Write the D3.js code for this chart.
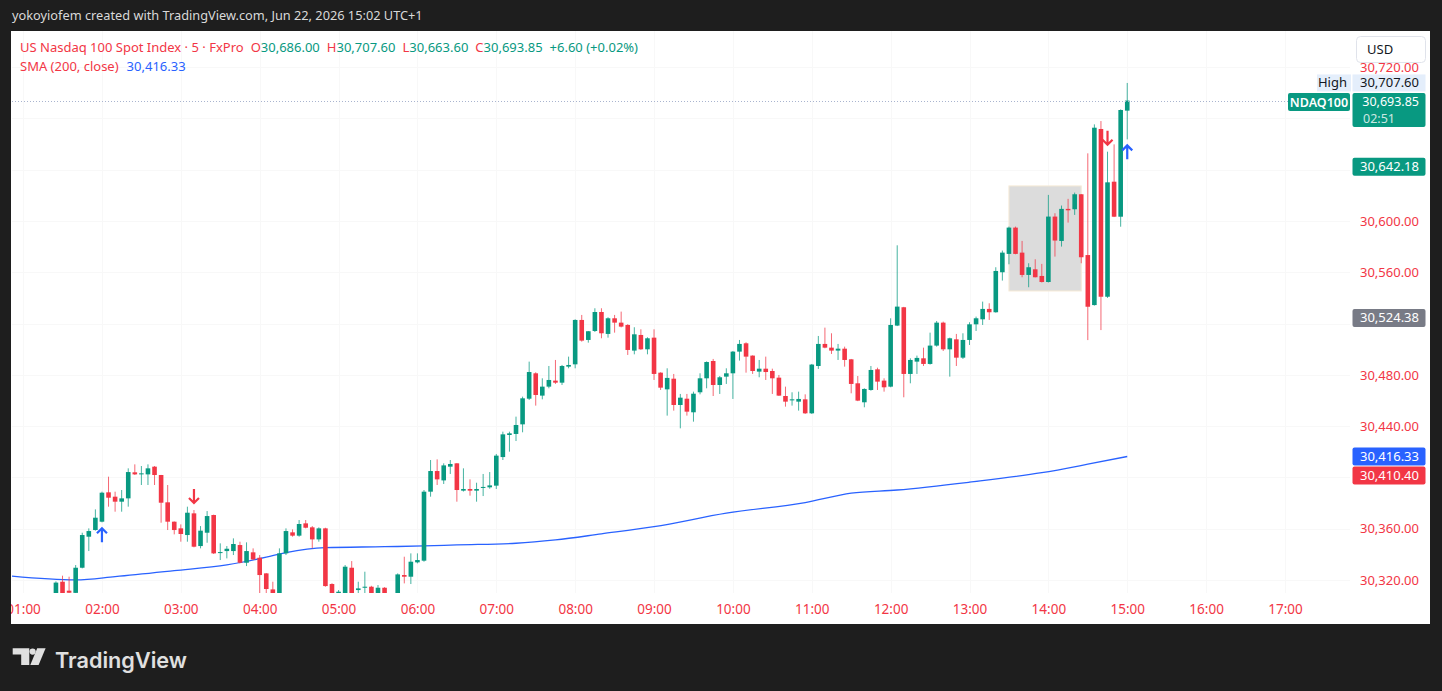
<!DOCTYPE html>
<html lang="en">
<head>
<meta charset="UTF-8">
<title>US Nasdaq 100 Spot Index - 5m</title>
<script src="https://d3js.org/d3.v7.min.js"></script>
<style>
  html, body { margin: 0; padding: 0; background: #1e1e1e; }
  svg { display: block; font-family: "Noto Sans", "DejaVu Sans", sans-serif; }
</style>
</head>
<body>
<script>
// 5-minute candles, Jun 22 2026
const candleTimes = [
  "01:25","01:30","01:35","01:40","01:45","01:50","01:55",
  "02:00","02:05","02:10","02:15","02:20","02:25","02:30","02:35","02:40","02:45","02:50","02:55",
  "03:00","03:05","03:10","03:15","03:20","03:25","03:30","03:35","03:40","03:45","03:50","03:55",
  "04:00","04:05","04:10","04:15","04:20","04:25","04:30","04:35","04:40","04:45","04:50","04:55",
  "05:00","05:05","05:10","05:15","05:20","05:25","05:30","05:35","05:40","05:45","05:50","05:55",
  "06:00","06:05","06:10","06:15","06:20","06:25","06:30","06:35","06:40","06:45","06:50","06:55",
  "07:00","07:05","07:10","07:15","07:20","07:25","07:30","07:35","07:40","07:45","07:50","07:55",
  "08:00","08:05","08:10","08:15","08:20","08:25","08:30","08:35","08:40","08:45","08:50","08:55",
  "09:00","09:05","09:10","09:15","09:20","09:25","09:30","09:35","09:40","09:45","09:50","09:55",
  "10:00","10:05","10:10","10:15","10:20","10:25","10:30","10:35","10:40","10:45","10:50","10:55",
  "11:00","11:05","11:10","11:15","11:20","11:25","11:30","11:35","11:40","11:45","11:50","11:55",
  "12:00","12:05","12:10","12:15","12:20","12:25","12:30","12:35","12:40","12:45","12:50","12:55",
  "13:00","13:05","13:10","13:15","13:20","13:25","13:30","13:35","13:40","13:45","13:50","13:55",
  "14:00","14:05","14:10","14:15","14:20","14:25","14:30","14:35","14:40","14:45","14:50","14:55",
  "15:00"
];
const openPrices = [
  30305,30318.7,30311.7,30310,30329.6,30353.8,30359,
  30365.5,30388.4,30385,30381.1,30383.7,30404,30402.4,30402.4,30408.4,30401.9,30380.6,30365.5,
  30360.3,30355.1,30372,30346.5,30356.9,30370.7,30341.3,30342.6,30342.6,30347.3,30333.5,30341.6,
  30337.4,30325.2,30312.7,30304,30340.8,30357.2,30354.6,30364.2,30361.1,30351.7,30360.3,30316.9,
  30309.6,30305,30329.6,30312.2,30314,30314.8,30308,30314,30308,30303,30323.9,30322.6,
  30333.8,30335.1,30388.9,30405,30397.7,30408.4,30411,30389.7,30391,30389.7,30392,30392.3,
  30393.6,30415.9,30433.1,30433.9,30441.4,30461.4,30481.2,30463.8,30470.8,30475.5,30473.9,30486.4,
  30488.2,30522.8,30507.2,30514.2,30529,30511.9,30524.1,30520.7,30518.9,30498.9,30511.1,30499.9,
  30509,30481.7,30468.7,30477,30456.5,30461.4,30450.8,30466.4,30477.3,30490.8,30472.1,30478.6,
  30481.2,30498.1,30504.6,30495,30482.5,30484.8,30483,30477.8,30463.5,30460.1,30459.1,30460.9,
  30450,30486.9,30504.1,30501.2,30498.9,30500.4,30492.1,30473.4,30458.6,30468.2,30484.3,30475.5,
  30470.8,30518.4,30532.7,30480.7,30490.3,30492.9,30488.5,30502.8,30520.7,30499.9,30507.7,30493.4,
  30507.2,30519.4,30523.3,30531.4,30528.8,30560,30574.3,30594.8,30575.3,30557.9,30562.3,30557.1,
  30552.4,30603.4,30584.4,30609.4,30609.1,30620.8,30573.4,30534.4,30671.7,30540.9,30630.6,30603.3,
  30686
];
const highPrices = [
  30319,30323.4,30322.6,30331.7,30356.9,30360.3,30375.1,
  30388.9,30400.6,30388.9,30390.2,30407.1,30410.2,30408.9,30410.2,30408.9,30402,30394.1,30365.7,
  30363.4,30377.2,30374.6,30362.1,30373.8,30371,30348.6,30346.5,30352.5,30349.9,30349.4,30344.7,
  30339.5,30325.5,30318.7,30344.7,30360.3,30359.5,30366.8,30366.8,30362.1,30361.1,30360.8,30317.5,
  30312.2,30331.7,30334.8,30318.7,30326.5,30315.5,30316.1,30314.5,30309,30325.2,30338.2,30340.8,
  30340.8,30390.2,30413.6,30414.1,30411,30413.6,30411.2,30407.1,30398.5,30395.9,30402.7,30404.2,
  30418.3,30435.7,30435.7,30447.4,30463,30490.3,30482,30477.3,30486.9,30491.6,30487.7,30494.2,
  30523.3,30526.7,30514.2,30531.9,30531.9,30524.9,30526.7,30529.3,30519.5,30517.1,30515.5,30509.3,
  30515.5,30482,30485.1,30480.7,30465.1,30465.1,30466.9,30481.2,30490.5,30492.4,30479.1,30485.1,
  30498.6,30507.2,30505.4,30495.2,30491.6,30494.2,30484.8,30479.9,30470.8,30466.4,30466.9,30464.8,
  30488.5,30510.3,30516.8,30512.4,30504.1,30502,30492.4,30479.1,30469.5,30486.9,30485.6,30477.3,
  30524.1,30581,30533,30492.9,30495,30501.2,30512.9,30522,30521.5,30509,30511.9,30512.4,
  30521,30525.4,30537.1,30535.8,30563.9,30576.9,30595.6,30595.6,30584.4,30567,30570.1,30566.5,
  30620.3,30606,30612,30617.2,30622.1,30621,30652.7,30675.3,30677.9,30654,30659.7,30687,
  30707.6
];
const lowPrices = [
  30302,30305,30308,30308,30329.1,30342.6,30358.5,
  30365,30377.2,30373.3,30373.3,30377.2,30401.9,30394.1,30394.1,30394.1,30364.7,30359,30355.6,
  30349.9,30349.9,30345.5,30344.7,30349.1,30340.3,30335.6,30336.9,30339.5,30333,30330.9,30335.6,
  30305,30305,30300,30300,30339.5,30353.8,30353.8,30360.3,30344.7,30349.9,30314.8,30300,
  30305,30302,30302,30309.6,30309,30306,30306,30306,30300,30301,30317.4,30316.9,
  30333,30334.3,30385,30394.1,30394.9,30402.7,30381.1,30389,30385.8,30381.1,30385.5,30391.2,
  30391,30413.6,30420.1,30428.4,30435.2,30460.4,30456,30460.9,30469.5,30472.9,30472.1,30485.1,
  30485.1,30505.9,30505.1,30513.4,30508.5,30509,30512.9,30517,30495.5,30496,30499.5,30496,
  30476,30468.2,30448.2,30452.1,30438.3,30448.2,30443.5,30464.8,30469.5,30463.5,30465.1,30472.9,
  30461.2,30491.1,30481.7,30480.7,30478.1,30476,30465.1,30463.5,30455.2,30456,30452.1,30449.5,
  30449.5,30484.6,30500.7,30496.3,30491.6,30486.4,30465.6,30459.5,30454.7,30467.6,30468.2,30466.9,
  30470.3,30518,30462.5,30473.4,30480.7,30486.9,30488,30502,30498.6,30478.6,30486.9,30492.4,
  30503.3,30514.2,30518.9,30522.8,30528.5,30553.5,30566.2,30574,30556.1,30548.3,30556,30552,
  30552,30572.2,30580,30598.7,30604.7,30567,30507.1,30534,30514.9,30540,30603,30595.5,
  30663.6
];
const closePrices = [
  30318,30309,30310.1,30329.6,30355.1,30358.2,30368.6,
  30388.1,30384.2,30381.1,30383.7,30404.2,30402.4,30403.2,30407.1,30401.9,30380.3,30365.5,30359,
  30355.9,30372.5,30346,30358.5,30369.9,30340.8,30341.8,30344.4,30348.1,30333.5,30342.6,30336.1,
  30323.9,30313,30305,30340.8,30358.2,30354.6,30363.7,30360.8,30351.7,30360.3,30315.3,30305,
  30310.9,30330.4,30306,30313.5,30314.8,30308,30314,30308,30303,30324.4,30322.6,30334.3,
  30335.6,30388.9,30405,30398.5,30409.4,30410.5,30390.2,30391,30389.7,30391,30392.6,30393.8,
  30417,30433.6,30434.4,30440.9,30461.7,30482.2,30464.3,30470.8,30476,30473.9,30486.9,30487.7,
  30522.8,30506.7,30514,30529,30512.4,30524.1,30520.7,30517.6,30499.4,30511.6,30499.9,30508.5,
  30480.7,30470,30477.6,30456.5,30462.2,30451.3,30465.3,30477.3,30490,30472.1,30478.1,30481.2,
  30498.1,30504.1,30494.2,30483,30484.8,30482.2,30477.3,30463.8,30459.1,30460.9,30461.2,30450,
  30488,30504.1,30501.2,30498.9,30500.4,30491.6,30472.9,30459.9,30469,30483.8,30474.7,30470.3,
  30518.9,30533.2,30480.7,30491.6,30493.2,30488.5,30502.8,30520.7,30499.9,30508.5,30493.4,30507.2,
  30519.4,30524.1,30531.4,30528.8,30561,30575.3,30594.8,30574.3,30557.9,30563.9,30556.1,30552.4,
  30603.4,30584.7,30609.4,30608.3,30620.8,30571.7,30533.1,30672.7,30540.9,30630.1,30603.3,30686.5,
  30693.85
];

// SMA(200) readings taken along the blue line
const smaTimes  = ["00:50","01:40","02:10","02:55","03:35","04:05","04:20","04:50","05:35","06:05","06:30","07:15",
                   "07:45","08:20","09:00","09:55","10:55","11:30","12:05","13:00","13:55","14:30","15:00"];
const smaValues = [30323.2,30320.1,30322.6,30327.3,30331.8,30337.8,30341.4,30345.3,30346.0,30346.6,30347.4,30348.7,
                   30351.3,30356.0,30361.6,30372.1,30380.4,30387.7,30390.2,30396.3,30403.7,30410.3,30416.33];

const timeTicks  = ["01:00","02:00","03:00","04:00","05:00","06:00","07:00","08:00","09:00",
                    "10:00","11:00","12:00","13:00","14:00","15:00","16:00","17:00"];
const priceTicks = [30320, 30360, 30440, 30480, 30560, 30600, 30720];
const gridPrices = [30320, 30360, 30400, 30440, 30480, 30520, 30560, 30600, 30640, 30680, 30720];

// signal arrows and the grey box drawn on the chart
const upSignals   = ["02:00", "15:00"];
const downSignals = ["03:10", "14:45"];
const boxTimes  = ["13:30", "14:25"];
const boxPrices = [30627.3, 30545.4];

// price scale badges
const badgePrices = [30642.18, 30524.38, 30416.33, 30410.40];
const badgeColors = ["#089981", "#787b86", "#2962ff", "#f23645"];
const sessionHigh = 30707.60;
const lastPrice = 30693.85;
const countdown = "02:51";
const changeText = "+6.60 (+0.02%)";

const W = 1442, H = 691;
const red = "#f23645", green = "#089981", blue = "#2962ff";
const plot = { left: 12, right: 1350, top: 31, bottom: 593 };

const parseT = d3.timeParse("%H:%M");
const parseS = d3.timeParse("%H:%M:%S");
const fmt = d3.format(",.2f");

const x = d3.scaleTime()
  .domain([parseS("00:51:34"), parseS("17:49:28")])
  .range([plot.left, plot.right]);
const y = d3.scaleLinear()
  .domain([30309.9, 30748.1])
  .range([plot.bottom, plot.top]);

const candles = candleTimes.map((t, i) => ({
  t: parseT(t), o: openPrices[i], h: highPrices[i], l: lowPrices[i], c: closePrices[i]
}));
const byTime = new Map(candles.map(d => [d3.timeFormat("%H:%M")(d.t), d]));

const svg = d3.select("body").append("svg")
  .attr("width", W).attr("height", H);

svg.append("rect").attr("width", W).attr("height", H).attr("fill", "#1e1e1e");

// snapshot caption
const caption = svg.append("text")
  .attr("x", 12).attr("y", 20)
  .attr("font-size", 13.5).attr("fill", "#d9d9d9")
  .text("yokoyiofem created with TradingView.com, Jun 22, 2026 15:02 UTC+1");
fitText(caption, 411);

// white chart panel
svg.append("rect")
  .attr("x", 11).attr("y", 31).attr("width", 1419).attr("height", 593)
  .attr("fill", "#ffffff");

const defs = svg.append("defs");
defs.append("clipPath").attr("id", "plotClip").append("rect")
  .attr("x", plot.left).attr("y", plot.top)
  .attr("width", plot.right - plot.left).attr("height", plot.bottom - plot.top);
defs.append("clipPath").attr("id", "xAxisClip").append("rect")
  .attr("x", 11).attr("y", plot.bottom).attr("width", plot.right - 11).attr("height", 31);

const chart = svg.append("g").attr("clip-path", "url(#plotClip)");

// faint grid
chart.append("g").selectAll("line").data(gridPrices).join("line")
  .attr("x1", plot.left).attr("x2", plot.right)
  .attr("y1", d => Math.round(y(d)) + 0.5).attr("y2", d => Math.round(y(d)) + 0.5)
  .attr("stroke", "#f8f8f8");
chart.append("g").selectAll("line").data(timeTicks).join("line")
  .attr("x1", d => Math.round(x(parseT(d))) + 0.5).attr("x2", d => Math.round(x(parseT(d))) + 0.5)
  .attr("y1", plot.top).attr("y2", plot.bottom)
  .attr("stroke", "#f8f8f8");

// grey rectangle drawing
chart.append("rect")
  .attr("x", x(parseT(boxTimes[0])))
  .attr("y", y(boxPrices[0]))
  .attr("width", x(parseT(boxTimes[1])) - x(parseT(boxTimes[0])))
  .attr("height", y(boxPrices[1]) - y(boxPrices[0]))
  .attr("fill", "#dcdcdc")
  .attr("stroke", "#f6ead6").attr("stroke-width", 1);

// SMA 200
const smaLine = d3.line()
  .x((d, i) => x(parseT(smaTimes[i])))
  .y(d => y(d))
  .curve(d3.curveMonotoneX);
chart.append("path")
  .attr("d", smaLine(smaValues))
  .attr("fill", "none").attr("stroke", blue).attr("stroke-width", 1.3);

// candles
const bw = 4.6;
const cg = chart.append("g");
cg.selectAll("line").data(candles).join("line")
  .attr("x1", d => x(d.t)).attr("x2", d => x(d.t))
  .attr("y1", d => y(d.h)).attr("y2", d => y(d.l))
  .attr("stroke", d => d.c >= d.o ? green : red)
  .attr("stroke-opacity", 0.75)
  .attr("stroke-width", 1);
cg.selectAll("rect").data(candles).join("rect")
  .attr("x", d => x(d.t) - bw / 2)
  .attr("width", bw)
  .attr("y", d => y(Math.max(d.o, d.c)))
  .attr("height", d => Math.max(1, Math.abs(y(d.o) - y(d.c))))
  .attr("fill", d => d.c >= d.o ? green : red);

// signal arrows
function arrow(xc, tip, dir, color) {
  const len = 14, hw = 5;
  const tail = tip + dir * len;
  const head = tip + dir * hw;
  svg.append("path")
    .attr("d", `M${xc},${tail}L${xc},${tip}M${xc - hw},${head}L${xc},${tip}L${xc + hw},${head}`)
    .attr("fill", "none").attr("stroke", color).attr("stroke-width", 2.2);
}
upSignals.forEach(t => {
  const d = byTime.get(t);
  arrow(x(d.t), y(d.l) + 6, 1, blue);
});
downSignals.forEach(t => {
  const d = byTime.get(t);
  arrow(x(d.t), y(d.h) - 7, -1, red);
});

// last price dotted line
svg.append("line")
  .attr("x1", plot.left).attr("x2", 1288)
  .attr("y1", Math.round(y(lastPrice)) + 0.5).attr("y2", Math.round(y(lastPrice)) + 0.5)
  .attr("stroke", "#a9b4cf").attr("stroke-dasharray", "1,2");

// legend
const legend = svg.append("text").attr("x", 20).attr("y", 52).attr("font-size", 13);
legend.append("tspan").attr("fill", red).text("US Nasdaq 100 Spot Index \u00b7 5 \u00b7 FxPro");
const last = candles[candles.length - 1];
[["O", last.o], ["H", last.h], ["L", last.l], ["C", last.c]].forEach(([k, v]) => {
  legend.append("tspan").attr("dx", 7).attr("fill", red).text(k);
  legend.append("tspan").attr("fill", green).text(fmt(v));
});
legend.append("tspan").attr("dx", 7).attr("fill", green).text(changeText);

const legend2 = svg.append("text").attr("x", 20).attr("y", 71).attr("font-size", 13);
legend2.append("tspan").attr("fill", red).text("SMA (200, close)");
legend2.append("tspan").attr("dx", 8).attr("fill", blue).text(fmt(smaValues[smaValues.length - 1]));

// time axis (clip the first label at the panel edge)
const xAxisWrap = svg.append("g").attr("clip-path", "url(#xAxisClip)");
const xAxis = xAxisWrap.append("g")
  .attr("transform", `translate(0,${plot.bottom})`)
  .call(d3.axisBottom(x).tickValues(timeTicks.map(parseT))
    .tickFormat(d3.timeFormat("%H:%M")).tickSize(0).tickPadding(11));
xAxis.select(".domain").remove();
xAxis.selectAll("text")
  .attr("fill", red).attr("font-size", 13.5)
  .attr("font-family", "'Noto Sans', 'DejaVu Sans', sans-serif");

// price axis
const yAxis = svg.append("g")
  .attr("transform", "translate(1419,0)")
  .call(d3.axisRight(y).tickValues(priceTicks).tickFormat(fmt).tickSize(0).tickPadding(0));
yAxis.select(".domain").remove();
yAxis.selectAll("text")
  .attr("text-anchor", "end").attr("fill", red).attr("font-size", 13)
  .attr("font-family", "'Noto Sans', 'DejaVu Sans', sans-serif");

// badges on the price scale (push down when overlapping)
const bh = 18;
let prevY = -Infinity;
badgePrices.map((p, i) => ({ p, c: badgeColors[i], yc: y(p) }))
  .sort((a, b) => a.yc - b.yc)
  .forEach(b => {
    if (b.yc - prevY < bh + 1) b.yc = prevY + bh + 1;
    prevY = b.yc;
    svg.append("rect")
      .attr("x", 1352.5).attr("y", b.yc - bh / 2).attr("width", 73).attr("height", bh)
      .attr("rx", 2).attr("fill", b.c);
    svg.append("text")
      .attr("x", 1419).attr("y", b.yc + 4.5).attr("text-anchor", "end")
      .attr("font-size", 13).attr("fill", "#ffffff").text(fmt(b.p));
  });

// session high badge
const hy = y(sessionHigh);
svg.append("rect").attr("x", 1317).attr("y", hy - 8.5).attr("width", 34).attr("height", 17)
  .attr("fill", "#e4eefb");
svg.append("rect").attr("x", 1352.5).attr("y", hy - 8.5).attr("width", 73).attr("height", 17)
  .attr("fill", "#e4eefb");
svg.append("text").attr("x", 1347).attr("y", hy + 4.5).attr("text-anchor", "end")
  .attr("font-size", 13).attr("fill", "#131722").text("High");
svg.append("text").attr("x", 1419).attr("y", hy + 4.5).attr("text-anchor", "end")
  .attr("font-size", 13).attr("fill", "#131722").text(fmt(sessionHigh));

// last price badge with countdown
const ly = y(lastPrice) + 1.5;
svg.append("rect").attr("x", 1288).attr("y", ly - bh / 2).attr("width", 62).attr("height", bh)
  .attr("rx", 2).attr("fill", green);
svg.append("text").attr("x", 1319).attr("y", ly + 4.5).attr("text-anchor", "middle")
  .attr("font-size", 12.5).attr("font-weight", 600).attr("fill", "#ffffff").text("NDAQ100");
svg.append("rect").attr("x", 1352.5).attr("y", ly - bh / 2).attr("width", 73).attr("height", 34)
  .attr("rx", 2).attr("fill", green);
svg.append("text").attr("x", 1419).attr("y", ly + 4).attr("text-anchor", "end")
  .attr("font-size", 12.5).attr("fill", "#ffffff").text(fmt(lastPrice));
svg.append("text").attr("x", 1363).attr("y", ly + 20.5)
  .attr("font-size", 12.5).attr("fill", "#ffffff").attr("fill-opacity", 0.8).text(countdown);

// currency button
svg.append("rect").attr("x", 1356.5).attr("y", 36.5).attr("width", 69).attr("height", 26)
  .attr("rx", 4).attr("fill", "#ffffff").attr("stroke", "#e0e3eb");
svg.append("text").attr("x", 1367).attr("y", 53.5)
  .attr("font-size", 13).attr("fill", "#131722").text("USD");

// TradingView logo
const logo = svg.append("g").attr("fill", "#e0e0e0");
logo.append("path").attr("d", "M12.7,648.3H29.3V665H21.2V654.4H12.7Z");
logo.append("circle").attr("cx", 32.6).attr("cy", 651.6).attr("r", 3.1);
logo.append("path").attr("d", "M37.2,648.3H45.6L38.6,665H30.3Z");
const brand = logo.append("text")
  .attr("x", 55).attr("y", 667.5)
  .attr("font-family", "Inter, 'Noto Sans', sans-serif")
  .attr("font-weight", 600).attr("font-size", 23)
  .text("TradingView");
fitText(brand, 132);

function fitText(sel, width) {
  const len = sel.node().getComputedTextLength();
  const fs = parseFloat(sel.attr("font-size"));
  sel.attr("font-size", (fs * width / len).toFixed(2));
}
</script>
</body>
</html>
